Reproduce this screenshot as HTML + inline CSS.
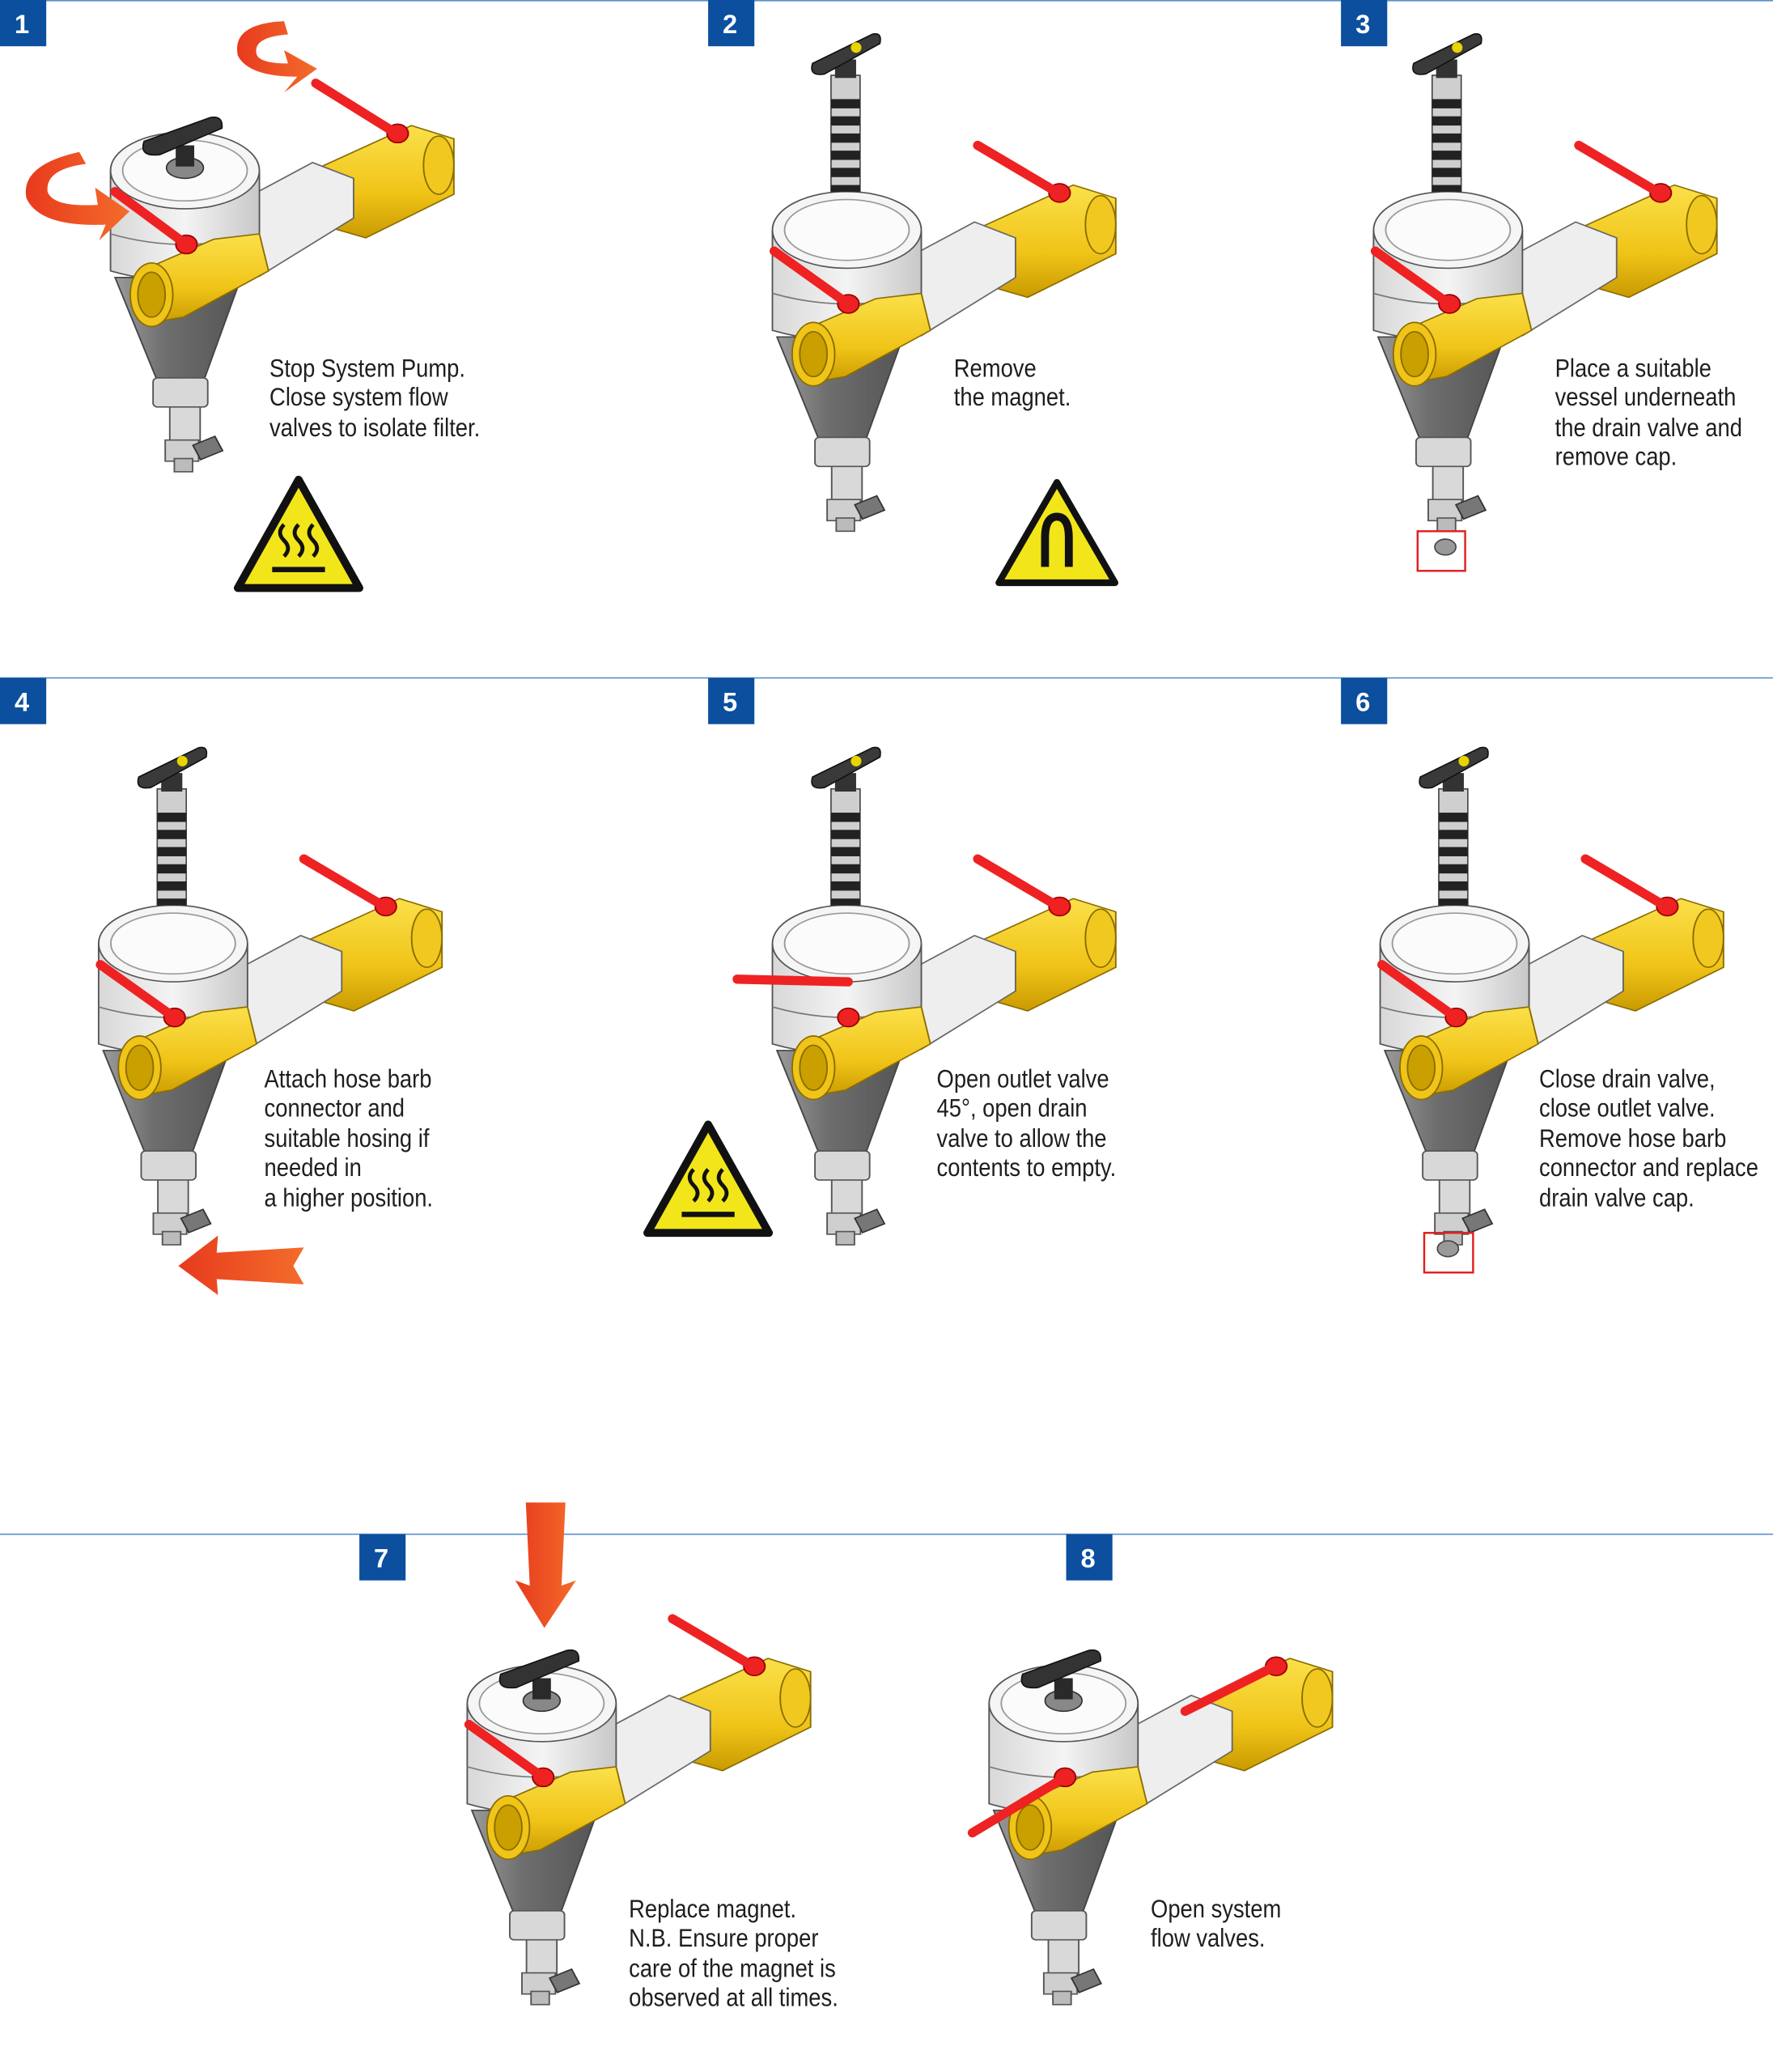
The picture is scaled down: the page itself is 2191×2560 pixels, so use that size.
<!DOCTYPE html>
<html><head><meta charset="utf-8"><style>
html,body{margin:0;padding:0;background:#fff}
svg{display:block}
text{font-family:"Liberation Sans",sans-serif;font-size:19.5px;fill:#1e1e1e}
.n{font-family:"Liberation Sans",sans-serif;font-weight:bold;font-size:20px;fill:#fff}
</style></head><body>
<svg width="2191" height="2560" viewBox="0 0 1342 1568" xmlns="http://www.w3.org/2000/svg">
<defs>
<linearGradient id="cone" x1="0" x2="1"><stop offset="0" stop-color="#9a9a9a"/><stop offset="0.4" stop-color="#6e6e6e"/><stop offset="1" stop-color="#555"/></linearGradient>
<linearGradient id="body" x1="0" x2="1"><stop offset="0" stop-color="#d8d8d8"/><stop offset="0.5" stop-color="#f4f4f4"/><stop offset="1" stop-color="#c8c8c8"/></linearGradient>
<linearGradient id="brass" x1="0" y1="0" x2="0" y2="1"><stop offset="0" stop-color="#fbe04a"/><stop offset="0.6" stop-color="#f0c418"/><stop offset="1" stop-color="#c99a00"/></linearGradient>
<linearGradient id="red" x1="0" x2="1"><stop offset="0" stop-color="#e83a1e"/><stop offset="1" stop-color="#f36c2a"/></linearGradient>
<g id="f0">
  <polygon points="729,172 790,140 818,150 818,192 760,225 733,216" fill="url(#brass)" stroke="#8a6d00" stroke-width="1"/>
  <ellipse cx="808" cy="170" rx="10" ry="22" fill="#f0c820" stroke="#8a6d00"/>
  <polygon points="673,200 725,168 752,180 752,210 690,254 673,240" fill="#eeeeee" stroke="#666" stroke-width="1"/>
  <rect x="631" y="352" width="20" height="28" fill="#d9d9d9" stroke="#555"/>
  <rect x="628" y="378" width="22" height="16" fill="#cfcfcf" stroke="#555"/>
  <rect x="648" y="378" width="16" height="12" fill="#777" stroke="#333" transform="rotate(-25 656 384)"/>
  <rect x="634" y="392" width="12" height="10" fill="#bbb" stroke="#555"/>
  <polygon points="595,255 678,255 654,331 622,331" fill="url(#cone)" stroke="#444"/>
  <rect x="620" y="331" width="36" height="22" rx="3" fill="#d8d8d8" stroke="#555"/>
  <path d="M592,175 L592,250 Q641,266 690,250 L690,175 Z" fill="url(#body)" stroke="#555"/>
  <path d="M592,222 Q641,238 690,222" fill="none" stroke="#777"/>
  <ellipse cx="641" cy="174" rx="49" ry="29" fill="#f5f5f5" stroke="#555"/>
  <ellipse cx="641" cy="174" rx="41" ry="23" fill="#fbfbfb" stroke="#999"/>
  <polygon points="612,250 660,226 690,222 696,250 640,285 615,290" fill="url(#brass)" stroke="#8a6d00"/>
  <ellipse cx="619" cy="268" rx="14" ry="24" fill="#f0c418" stroke="#8a6d00"/>
  <ellipse cx="619" cy="268" rx="9" ry="17" fill="#c9a000" stroke="#8a6d00"/>
  <circle cx="642" cy="230" r="7" fill="#e22" stroke="#900"/>
  <circle cx="781" cy="146" r="7" fill="#e22" stroke="#900"/>
</g>
<g id="f"><g transform="translate(641,0) scale(1.15,1) translate(-641,0)"><use href="#f0"/></g></g>
<g id="mag">
  <rect x="629" y="57" width="22" height="88" fill="#cfcfcf" stroke="#444"/>
  <g fill="#222"><rect x="629" y="75" width="22" height="7"/><rect x="629" y="88" width="22" height="7"/><rect x="629" y="101" width="22" height="7"/><rect x="629" y="114" width="22" height="7"/><rect x="629" y="127" width="22" height="7"/><rect x="629" y="140" width="22" height="5"/></g>
  <rect x="632" y="45" width="16" height="14" fill="#333"/>
  <path d="M615,48 L660,26 Q668,24 666,33 L624,56 Q612,58 615,48 Z" fill="#3a3a3a" stroke="#111"/>
  <circle cx="648" cy="36" r="4" fill="#e8d400"/>
</g>
<g id="knob">
  <ellipse cx="641" cy="172" rx="14" ry="8" fill="#888" stroke="#333"/>
  <rect x="634" y="155" width="14" height="16" fill="#2a2a2a"/>
  <path d="M610,152 L660,134 Q670,132 669,142 L622,162 Q606,164 610,152 Z" fill="#333" stroke="#111"/>
</g>
<g id="hot">
  <path d="M0,-42 L-46,40 L46,40 Z" fill="#f2e61a" stroke="#111" stroke-width="6" stroke-linejoin="round"/>
  <path d="M-11,-8 q-6,6 0,12 q6,6 0,12 M0,-8 q-6,6 0,12 q6,6 0,12 M11,-8 q-6,6 0,12 q6,6 0,12" fill="none" stroke="#111" stroke-width="3"/>
  <rect x="-20" y="24" width="40" height="4" fill="#111"/>
</g>
</defs>

<g stroke="#5b8fcc" stroke-width="1">
<line x1="0" y1="0.5" x2="1342" y2="0.5"/>
<line x1="0" y1="513" x2="1342" y2="513"/>
<line x1="0" y1="1161" x2="1342" y2="1161"/>
</g>
<g fill="#0b4f9e">
<rect x="0" y="0" width="35" height="35"/><rect x="536" y="0" width="35" height="35"/><rect x="1015" y="0" width="35" height="35"/>
<rect x="0" y="513" width="35" height="35"/><rect x="536" y="513" width="35" height="35"/><rect x="1015" y="513" width="35" height="35"/>
<rect x="272" y="1161" width="35" height="35"/><rect x="807" y="1161" width="35" height="35"/>
</g>
<text class="n" x="11" y="25">1</text><text class="n" x="547" y="25">2</text><text class="n" x="1026" y="25">3</text>
<text class="n" x="11" y="538">4</text><text class="n" x="547" y="538">5</text><text class="n" x="1026" y="538">6</text>
<text class="n" x="283" y="1186">7</text><text class="n" x="818" y="1186">8</text>

<g transform="translate(-501,-45)">
  <use href="#f"/><use href="#knob"/>
  <path d="M642,230 L588,190" stroke="#e22" stroke-width="7" stroke-linecap="round"/>
  <path d="M801,146 L740,108" stroke="#e22" stroke-width="7" stroke-linecap="round"/>
</g>
<path d="M60,115 Q15,125 20,150 Q30,172 80,170 L75,182 L98,160 L72,142 L74,155 Q40,157 36,145 Q34,128 65,124 Z" fill="url(#red)"/>
<path d="M215,16 Q175,18 180,42 Q188,58 225,58 L215,70 L240,52 L215,38 L218,48 Q195,48 194,40 Q192,28 218,26 Z" fill="url(#red)"/>
<g transform="translate(226,405)"><use href="#hot"/></g>
<g transform="translate(204,0) scale(0.86,1)">
<text x="0" y="285">Stop System Pump.</text>
<text x="0" y="307">Close system flow</text>
<text x="0" y="330">valves to isolate filter.</text></g>

<g>
  <use href="#f"/><use href="#mag"/>
  <path d="M642,230 L586,190" stroke="#e22" stroke-width="7" stroke-linecap="round"/>
  <path d="M801,146 L740,110" stroke="#e22" stroke-width="7" stroke-linecap="round"/>
</g>
<g transform="translate(800,405)">
  <path d="M0,-40 L-44,36 L44,36 Z" fill="#f2e61a" stroke="#111" stroke-width="5" stroke-linejoin="round"/>
  <path d="M-9,24 L-9,2 Q-9,-14 0,-14 Q9,-14 9,2 L9,24" fill="none" stroke="#111" stroke-width="6"/>
</g>
<g transform="translate(722,0) scale(0.86,1)">
<text x="0" y="285">Remove</text>
<text x="0" y="307">the magnet.</text></g>

<g transform="translate(455,0)">
  <use href="#f"/><use href="#mag"/>
  <path d="M642,230 L586,190" stroke="#e22" stroke-width="7" stroke-linecap="round"/>
  <path d="M801,146 L740,110" stroke="#e22" stroke-width="7" stroke-linecap="round"/>
</g>
<rect x="1073" y="402" width="36" height="30" fill="none" stroke="#e02020" stroke-width="1.5"/>
<ellipse cx="1094" cy="414" rx="8" ry="6" fill="#999" stroke="#444"/>
<g transform="translate(1177,0) scale(0.86,1)">
<text x="0" y="285">Place a suitable</text>
<text x="0" y="307">vessel underneath</text>
<text x="0" y="330">the drain valve and</text>
<text x="0" y="352">remove cap.</text></g>

<g transform="translate(-510,540)">
  <use href="#f"/><use href="#mag"/>
  <path d="M642,230 L586,190" stroke="#e22" stroke-width="7" stroke-linecap="round"/>
  <path d="M801,146 L740,110" stroke="#e22" stroke-width="7" stroke-linecap="round"/>
</g>
<polygon points="135,958 165,935 164,948 230,944 222,958 230,972 164,968 165,980" fill="url(#red)"/>
<g transform="translate(200,0) scale(0.86,1)">
<text x="0" y="823">Attach hose barb</text>
<text x="0" y="845">connector and</text>
<text x="0" y="868">suitable hosing if</text>
<text x="0" y="890">needed in</text>
<text x="0" y="913">a higher position.</text></g>

<g transform="translate(0,540)">
  <use href="#f"/><use href="#mag"/>
  <path d="M642,203 L558,201" stroke="#e22" stroke-width="7" stroke-linecap="round"/>
  <path d="M801,146 L740,110" stroke="#e22" stroke-width="7" stroke-linecap="round"/>
</g>
<g transform="translate(536,893)"><use href="#hot"/></g>
<g transform="translate(709,0) scale(0.86,1)">
<text x="0" y="823">Open outlet valve</text>
<text x="0" y="845">45°, open drain</text>
<text x="0" y="868">valve to allow the</text>
<text x="0" y="890">contents to empty.</text></g>

<g transform="translate(460,540)">
  <use href="#f"/><use href="#mag"/>
  <path d="M642,230 L586,190" stroke="#e22" stroke-width="7" stroke-linecap="round"/>
  <path d="M801,146 L740,110" stroke="#e22" stroke-width="7" stroke-linecap="round"/>
</g>
<rect x="1078" y="933" width="37" height="30" fill="none" stroke="#e02020" stroke-width="1.5"/>
<ellipse cx="1096" cy="945" rx="8" ry="6" fill="#999" stroke="#444"/>
<g transform="translate(1165,0) scale(0.86,1)">
<text x="0" y="823">Close drain valve,</text>
<text x="0" y="845">close outlet valve.</text>
<text x="0" y="868">Remove hose barb</text>
<text x="0" y="890">connector and replace</text>
<text x="0" y="913">drain valve cap.</text></g>

<g transform="translate(-231,1115)">
  <use href="#f"/><use href="#knob"/>
  <path d="M642,230 L586,190" stroke="#e22" stroke-width="7" stroke-linecap="round"/>
  <path d="M801,146 L740,110" stroke="#e22" stroke-width="7" stroke-linecap="round"/>
</g>
<polygon points="398,1137 428,1137 425,1200 436,1196 412,1232 390,1196 401,1200" fill="url(#red)"/>
<g transform="translate(476,0) scale(0.86,1)">
<text x="0" y="1451">Replace magnet.</text>
<text x="0" y="1473">N.B. Ensure proper</text>
<text x="0" y="1496">care of the magnet is</text>
<text x="0" y="1518">observed at all times.</text></g>

<g transform="translate(164,1115)">
  <use href="#f"/><use href="#knob"/>
  <path d="M642,230 L572,272" stroke="#e22" stroke-width="7" stroke-linecap="round"/>
  <path d="M801,146 L733,180" stroke="#e22" stroke-width="7" stroke-linecap="round"/>
</g>
<g transform="translate(871,0) scale(0.86,1)">
<text x="0" y="1451">Open system</text>
<text x="0" y="1473">flow valves.</text></g>
</svg>
</body></html>
